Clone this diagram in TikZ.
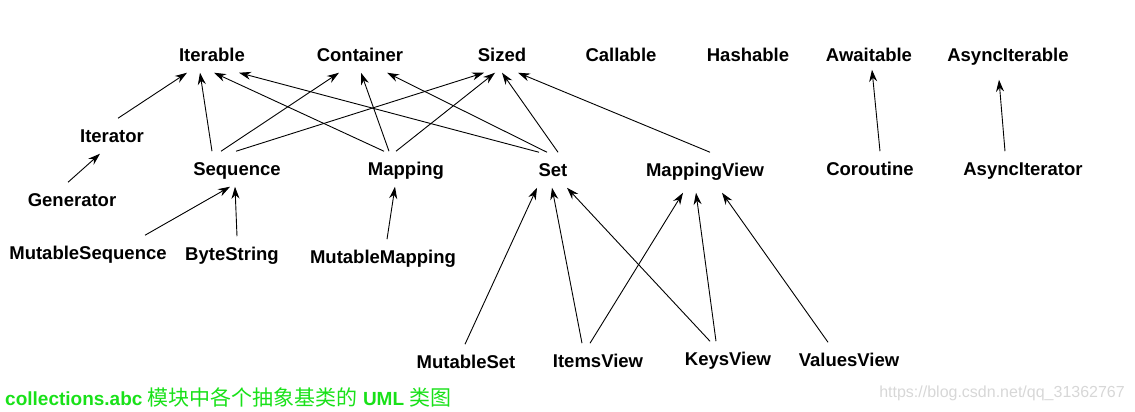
\documentclass[tikz,border=0pt]{standalone}
\usepackage{fontspec}
\setmainfont{Liberation Sans}
\newfontfamily\cjk{Noto Sans CJK SC}
\usepackage{tikz}
\usetikzlibrary{arrows.meta}
\definecolor{capgreen}{RGB}{25,225,25}
\definecolor{markgray}{RGB}{215,215,215}

\begin{document}
\begin{tikzpicture}[x=1pt, y=1pt,
    cls/.style={inner sep=3pt, outer xsep=0pt, outer ysep=8pt, text height=13.5pt, text depth=0pt,
        font=\fontsize{18.5}{20}\selectfont\bfseries},
    arr/.style={-{Stealth[length=12pt, width=8pt]}, line width=0.9pt}]
    \useasboundingbox (0,0) rectangle (1135,412);

    \node[cls] (Iterable) at (212,357) {Iterable};
    \node[cls] (Container) at (360,357) {Container};
    \node[cls] (Sized) at (502,357) {Sized};
    \node[cls] (Callable) at (621,357) {Callable};
    \node[cls] (Hashable) at (748,357) {Hashable};
    \node[cls] (Awaitable) at (869,357) {Awaitable};
    \node[cls] (AsyncIterable) at (1008,357) {AsyncIterable};

    \node[cls] (Iterator) at (112,276) {Iterator};
    \node[cls] (Generator) at (72,212) {Generator};
    \node[cls] (Sequence) at (237,243) {Sequence};
    \node[cls] (Mapping) at (406,243) {Mapping};
    \node[cls] (Set) at (553,242) {Set};
    \node[cls] (MappingView) at (705,242) {MappingView};
    \node[cls] (Coroutine) at (870,243) {Coroutine};
    \node[cls] (AsyncIterator) at (1023,243) {AsyncIterator};

    \node[cls] (MutableSequence) at (88,159) {MutableSequence};
    \node[cls] (ByteString) at (232,158) {ByteString};
    \node[cls] (MutableMapping) at (383,155) {MutableMapping};

    \node[cls] (MutableSet) at (466,50) {MutableSet};
    \node[cls] (ItemsView) at (598,51) {ItemsView};
    \node[cls] (KeysView) at (728,53) {KeysView};
    \node[cls] (ValuesView) at (849,52) {ValuesView};

    \node[anchor=west, inner sep=0pt, text=capgreen, font=\fontsize{19}{21}\selectfont] (caption) at (5,15)
        {\textbf{collections.abc} {\cjk\fontsize{21}{23}\selectfont 模块中各个抽象基类的} \textbf{UML} {\cjk\fontsize{21}{23}\selectfont 类图}};
    \node[anchor=east, inner sep=0pt, text=markgray, font=\fontsize{16}{18}\selectfont] (mark) at (1125,19)
        {https://blog.csdn.net/qq\_31362767};

    \draw[arr] ([xshift=6]Iterator.north) -- ([xshift=-25]Iterable.south);
    \draw[arr] ([xshift=-4]Generator.north) -- ([xshift=-12]Iterator.south);

    \draw[arr] ([xshift=-25]Sequence.north) -- ([xshift=-12]Iterable.south);
    \draw[arr] ([xshift=-16]Sequence.north) -- ([xshift=-21]Container.south);
    \draw[arr] ([xshift=-1]Sequence.north) -- ([xshift=-18]Sized.south);

    \draw[arr] ([xshift=-22]Mapping.north) -- ([xshift=2]Iterable.south);
    \draw[arr] ([xshift=-17]Mapping.north) -- ([xshift=1]Container.south);
    \draw[arr] ([xshift=-10]Mapping.north) -- ([xshift=-7]Sized.south);

    \draw[arr] ([xshift=-14]Set.north) -- ([xshift=27]Iterable.south);
    \draw[arr] ([xshift=-6]Set.north) -- ([xshift=27]Container.south);
    \draw[arr] ([xshift=5]Set.north) -- (Sized.south);

    \draw[arr] ([xshift=5]MappingView.north) -- ([xshift=16]Sized.south);
    \draw[arr] ([xshift=10]Coroutine.north) -- ([xshift=3,yshift=3]Awaitable.south);
    \draw[arr] ([xshift=-18]AsyncIterator.north) -- ([xshift=-9,yshift=-7]AsyncIterable.south);

    \draw[arr] ([xshift=57]MutableSequence.north) -- ([xshift=-7]Sequence.south);
    \draw[arr] ([xshift=5]ByteString.north) -- ([xshift=-2]Sequence.south);
    \draw[arr] ([xshift=4]MutableMapping.north) -- ([xshift=-11]Mapping.south);

    \draw[arr] ([xshift=-1]MutableSet.north) -- ([xshift=-16]Set.south);
    \draw[arr] ([xshift=-16]ItemsView.north) -- ([xshift=-1]Set.south);
    \draw[arr] ([xshift=-18]KeysView.north) -- ([xshift=14]Set.south);
    \draw[arr] ([xshift=-8]ItemsView.north) -- ([xshift=-22,yshift=-5]MappingView.south);
    \draw[arr] ([xshift=-12]KeysView.north) -- ([xshift=-9,yshift=-5]MappingView.south);
    \draw[arr] ([xshift=-21]ValuesView.north) -- ([xshift=17,yshift=-5]MappingView.south);
\end{tikzpicture}
\end{document}
